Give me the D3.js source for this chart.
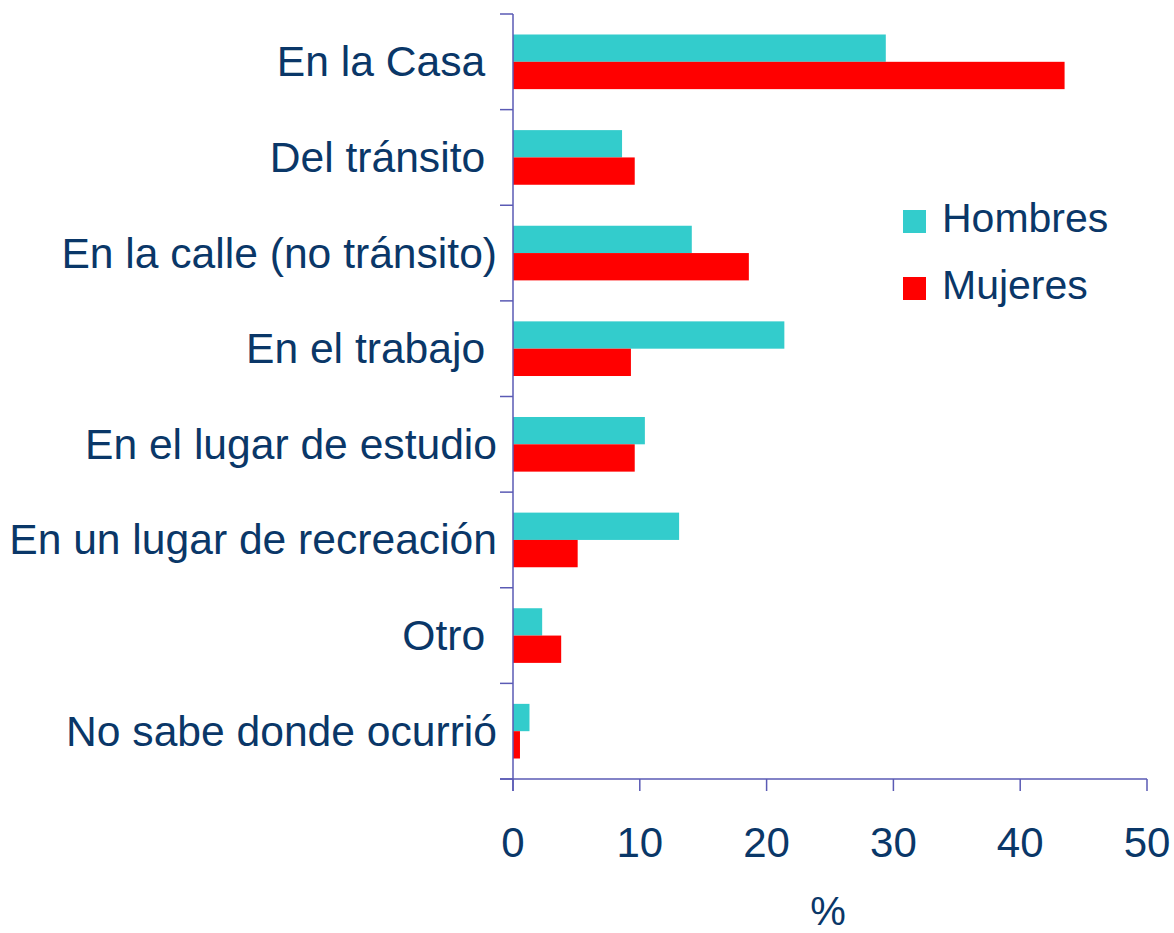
<!DOCTYPE html>
<html><head><meta charset="utf-8">
<script src="https://cdn.jsdelivr.net/npm/d3@7"></script>
<style>
body{margin:0;background:#fff;}
text{font-family:"Liberation Sans",Arial,sans-serif;fill:#0a3768;}
</style></head>
<body>
<svg id="chart" width="1174" height="933"></svg>
<script>
const categories = ["En la Casa ","Del tránsito ","En la calle (no tránsito)","En el trabajo ","En el lugar de estudio","En un lugar de recreación","Otro ","No sabe donde ocurrió"];
const hombres = [29.4, 8.6, 14.1, 21.4, 10.4, 13.1, 2.3, 1.3];
const mujeres = [43.5, 9.6, 18.6, 9.3, 9.6, 5.1, 3.8, 0.55];
const series = ["Hombres","Mujeres"];
const colors = ["#33CCCC","#FF0000"];
const xTicks = [0,10,20,30,40,50];

const svg = d3.select("#chart");
const axisColor = "#5a5ab4";
const x = d3.scaleLinear().domain([0,50]).range([513,1147]);
const y = d3.scaleBand().domain(categories).range([14,779]).padding(0);
const ys = d3.scaleBand().domain(series).range([0,y.bandwidth()]).paddingInner(0).paddingOuter(0.75);

const data = categories.map((c,i)=>({cat:c, vals:[hombres[i],mujeres[i]]}));

const g = svg.append("g");
g.selectAll("g.cat").data(data).join("g")
  .attr("transform",d=>`translate(0,${y(d.cat)})`)
  .selectAll("rect").data(d=>d.vals.map((v,j)=>({v,s:series[j],c:colors[j]})))
  .join("rect")
  .attr("x",x(0)).attr("y",d=>ys(d.s))
  .attr("width",d=>x(d.v)-x(0)).attr("height",ys.bandwidth())
  .attr("fill",d=>d.c);

// y axis
const bounds = categories.map(c=>y(c)).concat([y.range()[1]]);
svg.append("line").attr("x1",x(0)).attr("x2",x(0)).attr("y1",y.range()[0]).attr("y2",y.range()[1]+12)
  .attr("stroke",axisColor).attr("stroke-width",1.5);
svg.selectAll("line.yt").data(bounds).join("line").attr("class","yt")
  .attr("x1",x(0)-13).attr("x2",x(0)).attr("y1",d=>d).attr("y2",d=>d)
  .attr("stroke",axisColor).attr("stroke-width",1.5);

// x axis
svg.append("line").attr("x1",x(0)-13).attr("x2",x(50)).attr("y1",779).attr("y2",779)
  .attr("stroke",axisColor).attr("stroke-width",1.5);
svg.selectAll("line.xt").data(xTicks).join("line").attr("class","xt")
  .attr("x1",d=>x(d)).attr("x2",d=>x(d)).attr("y1",779).attr("y2",791)
  .attr("stroke",axisColor).attr("stroke-width",1.5);
svg.selectAll("text.xl").data(xTicks).join("text").attr("class","xl")
  .attr("x",d=>x(d)).attr("y",857).attr("text-anchor","middle")
  .style("font-size","42px").text(d=>d);

// category labels
svg.selectAll("text.cl").data(categories).join("text").attr("class","cl")
  .attr("x",497).attr("y",d=>y(d)+y.bandwidth()/2+14.5).attr("text-anchor","end")
  .attr("xml:space","preserve").style("white-space","pre")
  .style("font-size","42.6px").text(d=>d);

// x title
svg.append("text").attr("x",828).attr("y",925).attr("text-anchor","middle")
  .style("font-size","40px").text("%");

// legend
const leg = svg.selectAll("g.leg").data(series).join("g").attr("class","leg")
  .attr("transform",(d,i)=>`translate(903,${210+i*67})`);
leg.append("rect").attr("width",23).attr("height",23).attr("fill",(d,i)=>colors[i]);
leg.append("text").attr("x",39).attr("y",22).style("font-size",  "41px").text(d=>d);
</script>
</body></html>
